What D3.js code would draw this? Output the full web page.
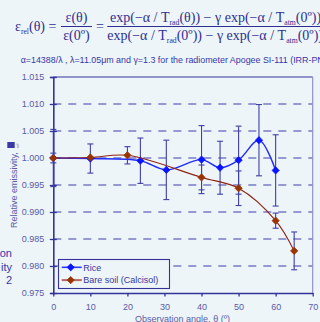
<!DOCTYPE html>
<html>
<head>
<meta charset="utf-8">
<script src="https://cdn.jsdelivr.net/npm/d3@7"></script>
<style>
  html, body { margin: 0; padding: 0; background: #eef5f8; }
  svg { display: block; }
</style>
</head>
<body>
<svg id="chart" width="320" height="322"></svg>
<script>
// data
const riceAngles = [0, 10, 23.5, 30.5, 40, 45, 50, 55.5, 60];
const riceValues = [1.0000, 0.9999, 0.9995, 0.9978, 0.9997, 0.9982, 0.9996, 1.0033, 0.9977];
const riceErrors = [0.0053, 0.0027, 0.0042, 0.0055, 0.0063, 0.0049, 0.0063, 0.0066, 0.0066];

const soilAngles = [0, 10, 20, 40, 50, 60, 65];
const soilValues = [1.0000, 1.0001, 1.0005, 0.9964, 0.9944, 0.9884, 0.9828];
const soilErrors = [0.0009, 0, 0.0016, 0.0023, 0.0032, 0.0014, 0.0035];

const xTicks = [0, 10, 20, 30, 40, 50, 60, 70];
const yTicks = [0.975, 0.980, 0.985, 0.990, 0.995, 1.000, 1.005, 1.010, 1.015];
const seriesNames = ["Rice", "Bare soil (Calcisol)"];

const ink = "#33339a";
const tickInk = "#5a5aa8";
const sans = "Liberation Sans, Arial, sans-serif";
const serif = "Liberation Serif, Times New Roman, serif";

const svg = d3.select("#chart");
svg.append("rect").attr("width", 320).attr("height", 322).attr("fill", "#eef5f8");

const xScale = d3.scaleLinear().domain([0, 70]).range([53.3, 312.7]);
const yScale = d3.scaleLinear().domain([0.975, 1.015]).range([293, 77]);

// formula header
const addRich = (x, y, parts, size, anchor) => {
  const t = svg.append("text")
    .attr("x", x).attr("y", y)
    .attr("font-family", serif).attr("font-size", size)
    .attr("fill", "#2e2e92")
    .attr("text-anchor", anchor || "start");
  let shifted = false;
  parts.forEach(p => {
    const sub = typeof p !== "string";
    const ts = t.append("tspan").text(sub ? p.sub : p);
    if (sub) ts.attr("font-size", size * 0.55).attr("dy", 3);
    else if (shifted) ts.attr("dy", -3);
    shifted = sub;
  });
  return t;
};

addRich(15, 31, ["ε", {sub: "rel"}, "(θ) ="], 14);
addRich(76.5, 22, ["ε(θ)"], 14, "middle");
addRich(76.5, 39.5, ["ε(0º)"], 14, "middle");
svg.append("line").attr("x1", 61).attr("x2", 92).attr("y1", 26.5).attr("y2", 26.5)
  .attr("stroke", "#2e2e92").attr("stroke-width", 1);
addRich(96, 31, ["="], 14);
addRich(110, 22, ["exp(−α / T", {sub: "rad"}, "(θ)) − γ exp(−α / T", {sub: "atm"}, "(0º))"], 14);
addRich(107.3, 39.5, ["exp(−α / T", {sub: "rad"}, "(0º)) − γ exp(−α / T", {sub: "atm"}, "(0º))"], 14);
svg.append("line").attr("x1", 107.3).attr("x2", 330).attr("y1", 26.5).attr("y2", 26.5)
  .attr("stroke", "#2e2e92").attr("stroke-width", 1);

svg.append("text")
  .attr("x", 20.7).attr("y", 62.5)
  .attr("font-family", sans).attr("font-size", 8.9)
  .attr("fill", "#3535a8")
  .text("α=14388/λ , λ=11.05μm and γ=1.3 for the radiometer Apogee SI-111 (IRR-PN)");

// grid
svg.append("g").selectAll("line")
  .data(yTicks.slice(1, -1))
  .join("line")
  .attr("x1", xScale(0)).attr("x2", xScale(70))
  .attr("y1", d => yScale(d)).attr("y2", d => yScale(d))
  .attr("stroke", "#3e3eaa").attr("stroke-width", 1.2)
  .attr("stroke-dasharray", "8,7");

// frame top and right
svg.append("line").attr("x1", xScale(0)).attr("x2", xScale(70))
  .attr("y1", yScale(1.015)).attr("y2", yScale(1.015))
  .attr("stroke", ink).attr("stroke-width", 1);
svg.append("line").attr("x1", xScale(70)).attr("x2", xScale(70))
  .attr("y1", yScale(1.015)).attr("y2", yScale(0.975))
  .attr("stroke", "#8f8fc8").attr("stroke-width", 1.2);

// axes
const yAxis = svg.append("g")
  .attr("transform", `translate(${xScale(0)},0)`)
  .call(d3.axisLeft(yScale).tickValues(yTicks).tickFormat(d3.format(".3f")).tickSize(3).tickPadding(6));
yAxis.selectAll(".tick line").attr("x1", -3.5).attr("x2", 3.5).attr("stroke", ink).attr("stroke-width", 1.3);
yAxis.select(".domain").attr("stroke", ink).attr("stroke-width", 1.6);
yAxis.selectAll("text").attr("font-family", sans).attr("font-size", 9).attr("fill", tickInk);

const xAxis = svg.append("g")
  .attr("transform", `translate(0,${yScale(0.975)})`)
  .call(d3.axisBottom(xScale).tickValues(xTicks).tickSize(3.5).tickPadding(7).tickSizeOuter(0));
xAxis.selectAll(".tick line").attr("stroke", ink).attr("stroke-width", 1.3);
xAxis.select(".domain").attr("stroke", ink).attr("stroke-width", 1.6);
xAxis.selectAll("text").attr("font-family", sans).attr("font-size", 9).attr("fill", tickInk);

// axis titles
svg.append("text")
  .attr("x", 182.5).attr("y", 321.5)
  .attr("text-anchor", "middle")
  .attr("font-family", sans).attr("font-size", 9).attr("fill", tickInk)
  .text("Observation angle, θ (º)");

const yLab = svg.append("g").attr("transform", "translate(16.7,228) rotate(-90)");
yLab.append("text")
  .attr("font-family", sans).attr("font-size", 9).attr("fill", tickInk)
  .text("Relative emissivity, ");
yLab.append("rect").attr("x", 80).attr("y", -9.4).attr("width", 6).attr("height", 7.4).attr("fill", "#3a3aa6");
yLab.append("text").attr("x", 80).attr("y", 2)
  .attr("font-family", sans).attr("font-size", 4).attr("fill", tickInk).text("rel");

// cut-off text at the left edge
[["on", 257], ["ity", 270.5], ["2", 284]].forEach(([s, y]) => {
  svg.append("text").attr("x", 12).attr("y", y).attr("text-anchor", "end")
    .attr("font-family", sans).attr("font-size", 11).attr("fill", "#3535a8").text(s);
});

// markers
const diamond = { draw(ctx, size) { const r = Math.sqrt(size / 2); ctx.moveTo(0, -r); ctx.lineTo(r, 0); ctx.lineTo(0, r); ctx.lineTo(-r, 0); ctx.closePath(); } };

const drawSeries = (angles, values, errors, lineColor, lineWidth, markColor) => {
  const pts = angles.map((a, i) => ({ a, v: values[i], e: errors[i] }));
  const bars = svg.append("g").attr("stroke", "#3f3fa8").attr("stroke-width", 1.1);
  pts.filter(d => d.e > 0).forEach(d => {
    const x = xScale(d.a), y0 = yScale(d.v + d.e), y1 = yScale(d.v - d.e);
    bars.append("line").attr("x1", x).attr("x2", x).attr("y1", y0).attr("y2", y1);
    bars.append("line").attr("x1", x - 3).attr("x2", x + 3).attr("y1", y0).attr("y2", y0);
    bars.append("line").attr("x1", x - 3).attr("x2", x + 3).attr("y1", y1).attr("y2", y1);
  });
  const line = d3.line().x(d => xScale(d.a)).y(d => yScale(d.v)).curve(d3.curveCatmullRom);
  svg.append("path").datum(pts).attr("d", line)
    .attr("fill", "none").attr("stroke", lineColor).attr("stroke-width", lineWidth);
  svg.append("g").selectAll("path").data(pts).join("path")
    .attr("transform", d => `translate(${xScale(d.a)},${yScale(d.v)})`)
    .attr("d", d3.symbol(diamond, 26))
    .attr("fill", markColor).attr("stroke", markColor).attr("stroke-width", 0.8);
};

drawSeries(riceAngles, riceValues, riceErrors, "#1f2bff", 1.4, "#0a14ff");
drawSeries(soilAngles, soilValues, soilErrors, "#8e2316", 1.1, "#9a3300");

// legend
const leg = svg.append("g");
leg.append("rect").attr("x", 58.5).attr("y", 259.5).attr("width", 111).attr("height", 29)
  .attr("fill", "#eef5f8").attr("stroke", ink).attr("stroke-width", 1.1);
const legColors = [["#2a3cff", "#0a14ff", 1.6], ["#b5675c", "#9a3300", 2]];
seriesNames.forEach((name, i) => {
  const y = 267.3 + i * 12.8;
  leg.append("line").attr("x1", 61.7).attr("x2", 81.7).attr("y1", y).attr("y2", y)
    .attr("stroke", legColors[i][0]).attr("stroke-width", legColors[i][2]);
  leg.append("path").attr("transform", `translate(70.7,${y})`)
    .attr("d", d3.symbol(diamond, 26)).attr("fill", legColors[i][1]).attr("stroke", legColors[i][1]).attr("stroke-width", 0.8);
  leg.append("text").attr("x", 83.3).attr("y", y + 3.2)
    .attr("font-family", sans).attr("font-size", 9).attr("fill", "#3535a0").text(name);
});
</script>
</body>
</html>
